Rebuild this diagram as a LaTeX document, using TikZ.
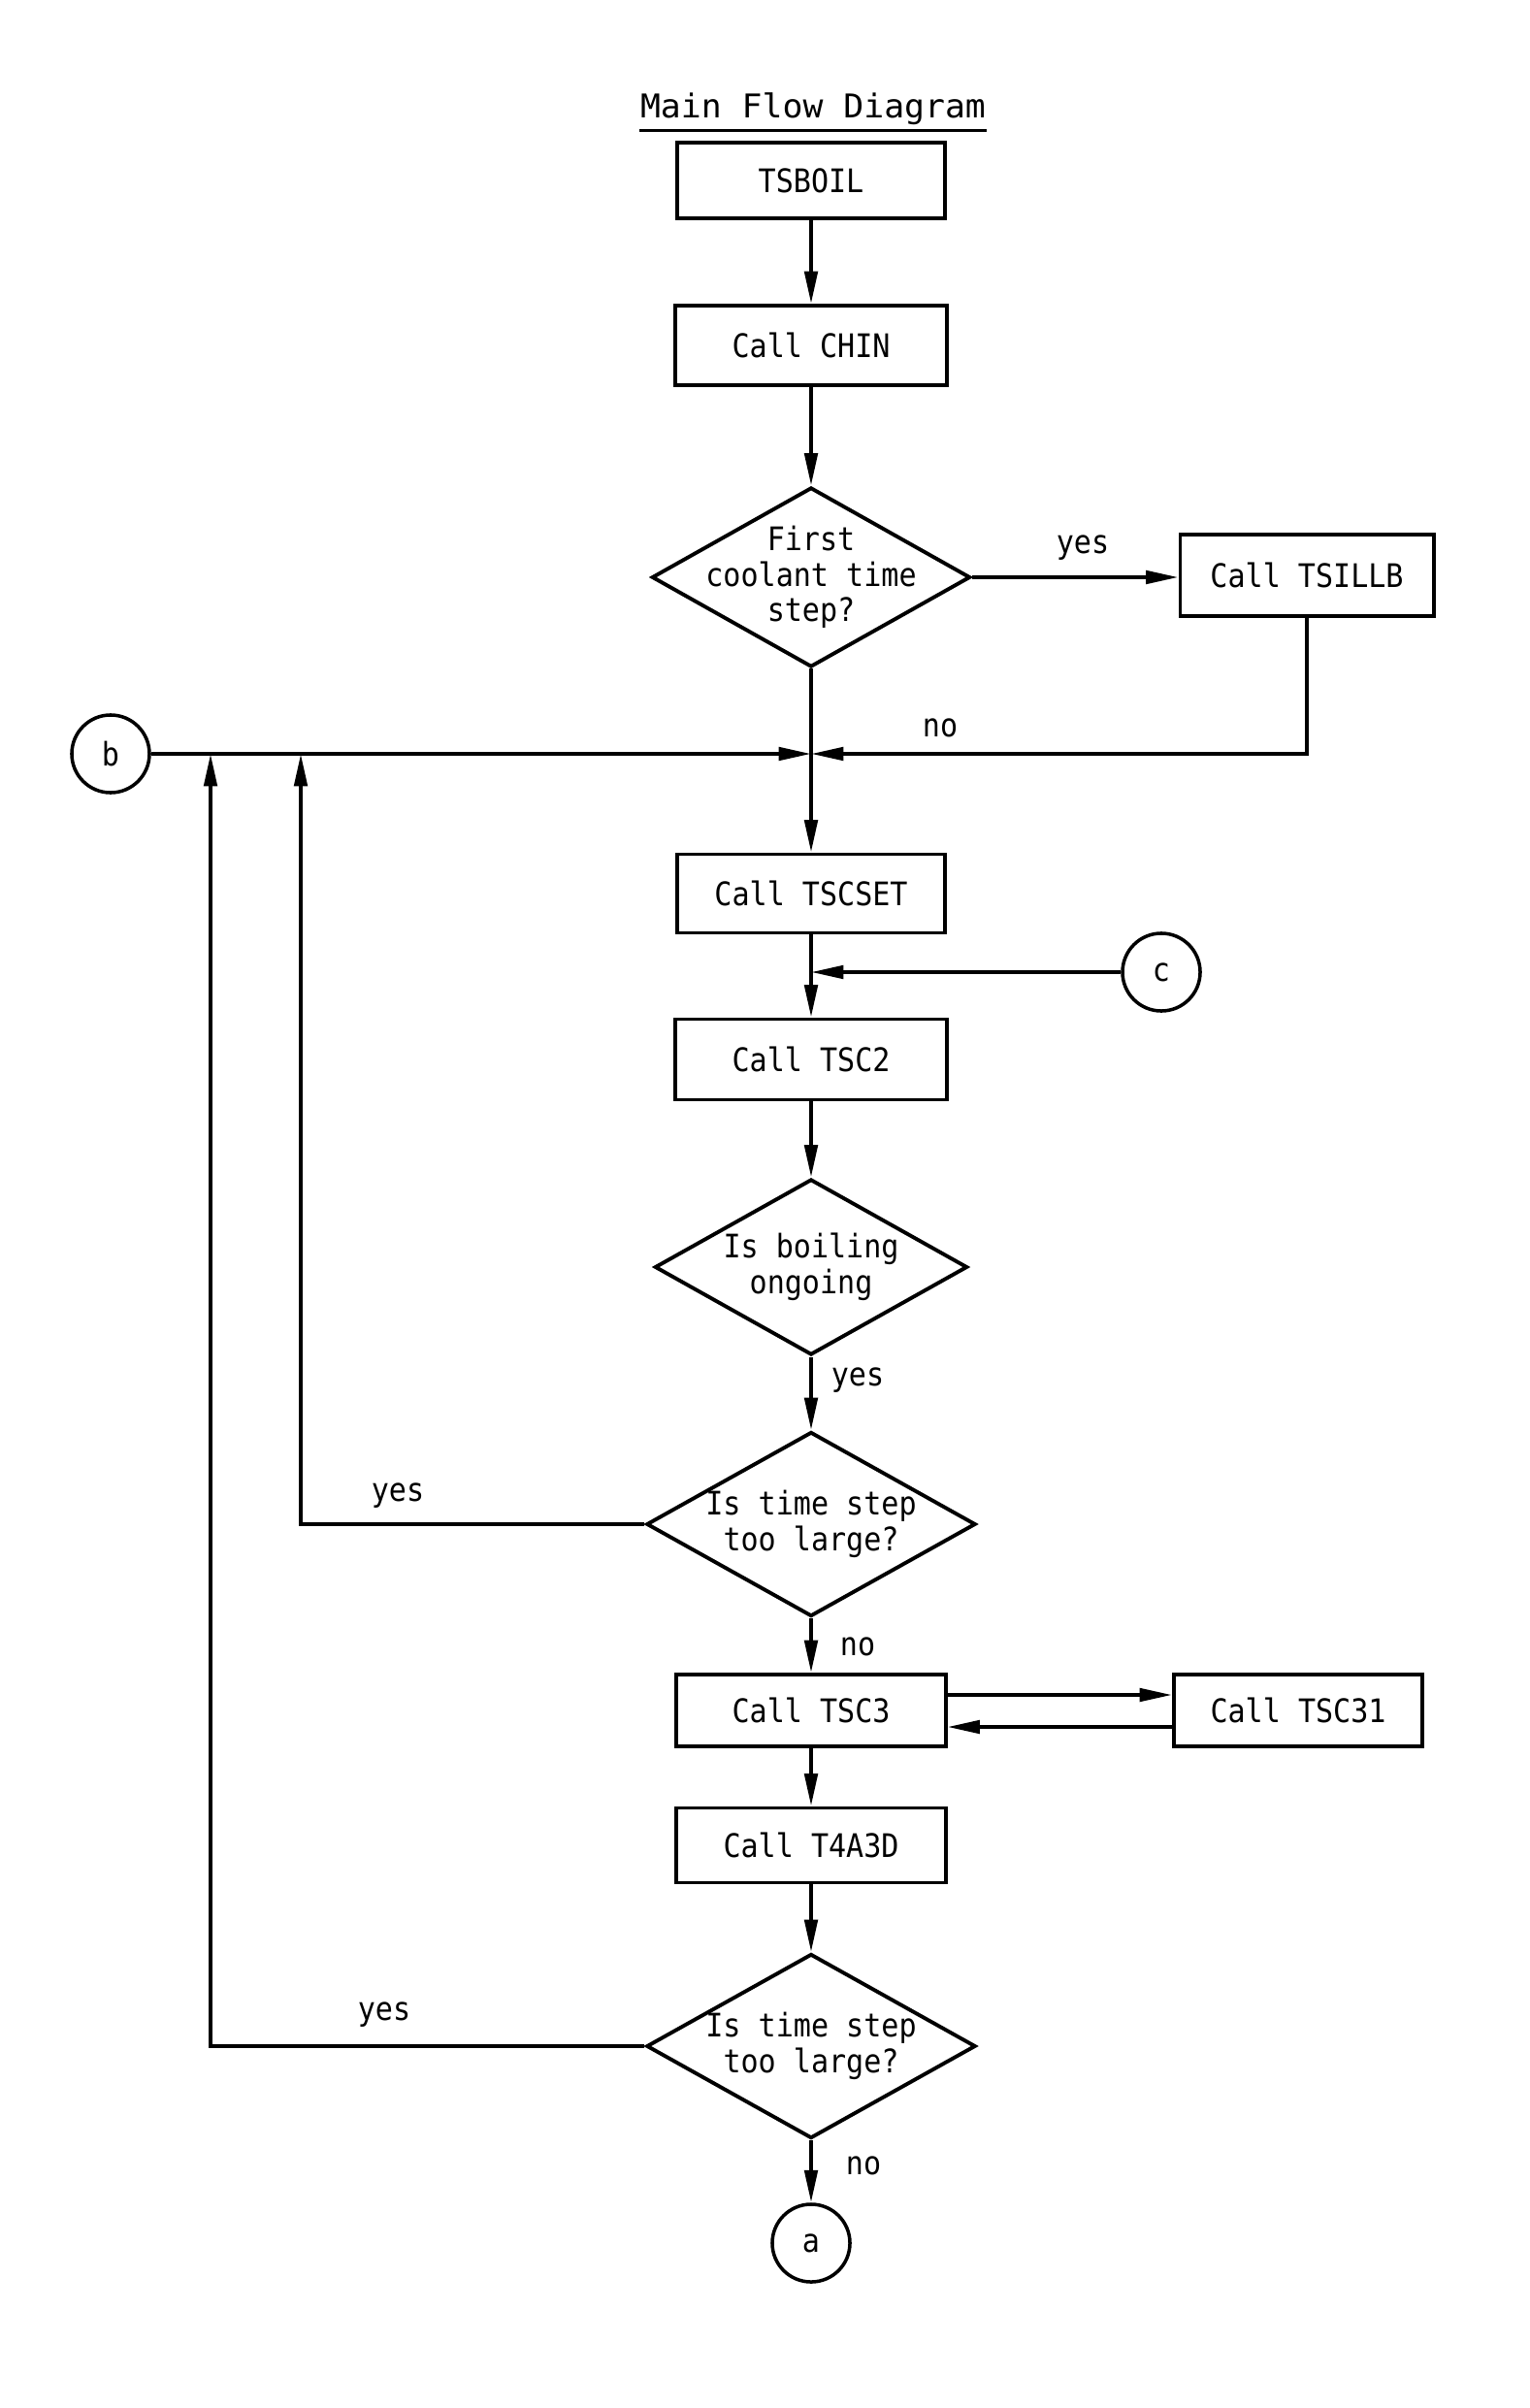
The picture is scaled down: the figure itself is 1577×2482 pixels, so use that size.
\documentclass[tikz,border=0pt]{standalone}
\usepackage{fontspec}
\usetikzlibrary{shapes.geometric,arrows.meta}
\newfontfamily\twfont[FakeStretch=0.9]{DejaVu Sans Mono}
\newfontfamily\twtitle[FakeStretch=1.03]{DejaVu Sans Mono}
\newcommand\flowfont{\twfont\fontsize{9.5}{10.4}\selectfont}
\newcommand\titlefont{\twtitle\fontsize{9.6}{11}\selectfont}
\begin{document}
\begin{tikzpicture}[x=0.01cm,y=-0.01cm,
  box/.style={draw,line width=1.1pt,rectangle,inner sep=0pt,font=\flowfont},
  decision/.style={draw,line width=1.1pt,diamond,inner sep=0pt},
  conn/.style={draw,circle,minimum size=0.8cm,inner sep=0pt,line width=1pt,font=\flowfont},
  flow/.style={line width=1.1pt,-{Triangle[length=9.5pt,width=3.8pt]}},
  plain/.style={line width=1.1pt},
  lab/.style={font=\flowfont,inner sep=0pt}]
\useasboundingbox[fill=white] (0,0) rectangle (1577,2482);

% title
\node[font=\titlefont,inner sep=0pt] (title) at (838,112) {Main Flow Diagram};
\draw[line width=1.1pt] ([yshift=-1.5pt]title.south west) -- ([yshift=-1.5pt]title.south east);

% boxes
\node[box,minimum width=2.75cm,minimum height=0.78cm] (tsboil) at (836,186) {TSBOIL};
\node[box,minimum width=2.79cm,minimum height=0.82cm] (chin) at (836,356) {Call CHIN};
\node[decision,minimum width=3.28cm,minimum height=1.85cm,
  label={[font=\flowfont,align=center]center:First\\coolant time\\step?}] (d1) at (836,595) {};
\node[box,minimum width=2.61cm,minimum height=0.84cm] (tsillb) at (1347,593) {Call TSILLB};
\coordinate (j) at (836,777);
\node[conn] (b) at (114,777) {b};
\coordinate (jb1) at (310,777);
\coordinate (jb2) at (217,777);
\node[box,minimum width=2.76cm,minimum height=0.81cm] (tscset) at (836,921) {Call TSCSET};
\node[conn] (c) at (1197,1002) {c};
\coordinate (jc) at (836,1002);
\node[box,minimum width=2.79cm,minimum height=0.83cm] (tsc2) at (836,1092) {Call TSC2};
\node[decision,minimum width=3.22cm,minimum height=1.81cm,
  label={[font=\flowfont,align=center]center:Is boiling\\ongoing}] (d2) at (836,1306) {};
\node[decision,minimum width=3.39cm,minimum height=1.90cm,
  label={[font=\flowfont,align=center]center:Is time step\\too large?}] (d3) at (836,1571) {};
\node[box,minimum width=2.77cm,minimum height=0.74cm] (tsc3) at (836,1763) {Call TSC3};
\node[box,minimum width=2.56cm,minimum height=0.74cm] (tsc31) at (1338,1763) {Call TSC31};
\coordinate (ya) at (0,1747);
\coordinate (yb) at (0,1780);
\node[box,minimum width=2.77cm,minimum height=0.77cm] (t4a3d) at (836,1902) {Call T4A3D};
\node[decision,minimum width=3.39cm,minimum height=1.90cm,
  label={[font=\flowfont,align=center]center:Is time step\\too large?}] (d4) at (836,2109) {};
\node[conn] (a) at (836,2312) {a};

% connectors
\draw[flow] (tsboil) -- (chin);
\draw[flow] (chin) -- (d1);
\draw[flow] (d1.east) -- (tsillb.west |- d1.east);
\draw[plain] (d1.south) -- (j);
\draw[flow] (tsillb.south) |- (j);
\draw[flow] (b) -- (j);
\draw[flow] (j) -- (tscset);
\draw[flow] (tscset) -- (tsc2);
\draw[flow] (c) -- (jc);
\draw[flow] (tsc2) -- (d2);
\draw[flow] (d2) -- (d3);
\draw[flow] (d3.west) -| (jb1);
\draw[flow] (d3) -- (tsc3);
\draw[flow] (tsc3.east |- ya) -- (tsc31.west |- ya);
\draw[flow] (tsc31.west |- yb) -- (tsc3.east |- yb);
\draw[flow] (tsc3) -- (t4a3d);
\draw[flow] (t4a3d) -- (d4);
\draw[flow] (d4.west) -| (jb2);
\draw[flow] (d4) -- (a);

% labels
\node[lab] (lyes1) at (1116,565) {yes};
\node[lab] (lno1) at (969,750) {no};
\node[lab] (lyes2) at (884,1423) {yes};
\node[lab] (lyes3) at (410,1542) {yes};
\node[lab] (lno3) at (884,1697) {no};
\node[lab] (lyes4) at (396,2077) {yes};
\node[lab] (lno4) at (890,2232) {no};
\end{tikzpicture}
\end{document}
